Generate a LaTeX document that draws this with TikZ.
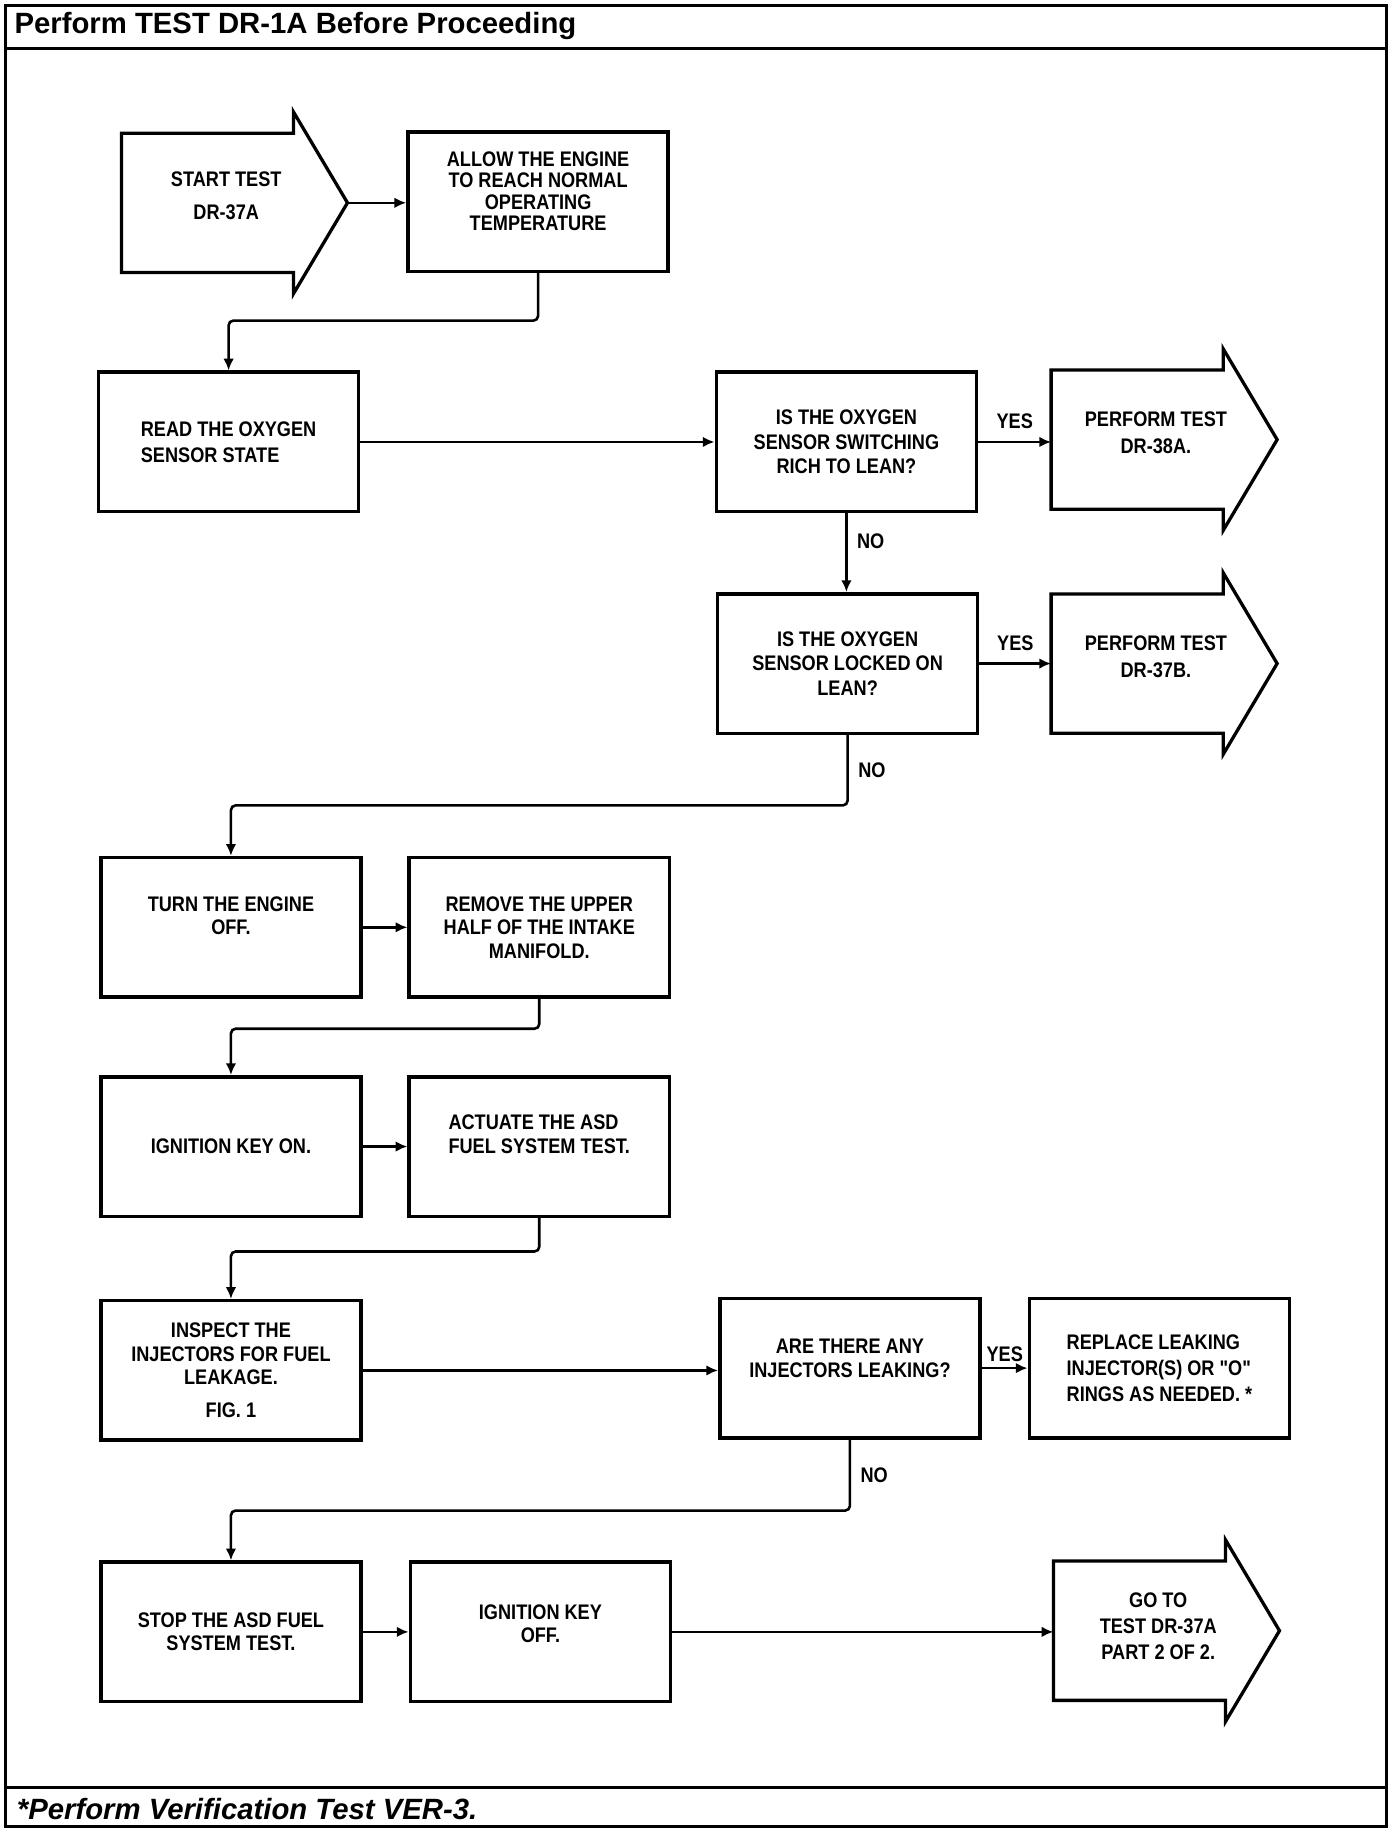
\documentclass[tikz,border=0pt]{standalone}
\usepackage{fontspec}
\setmainfont{Liberation Sans}
\newfontfamily\narrowfont{Liberation Sans}[FakeStretch=0.86]
\usetikzlibrary{arrows.meta}
\tikzstyle{box} = [rectangle, draw=black, line width=1.5pt, minimum width=111pt, minimum height=59.5pt, align=center, inner sep=2pt, font=\narrowfont\bfseries\fontsize{9}{10}\selectfont]
\tikzstyle{flag} = [rectangle, minimum width=73pt, minimum height=59pt, inner sep=0pt]
\tikzstyle{flagtext} = [align=center, xshift=8pt, yshift=3pt, font=\narrowfont\bfseries\fontsize{9}{11.5}\selectfont]
\tikzstyle{answer} = [inner sep=1pt, font=\narrowfont\bfseries\fontsize{9}{10}\selectfont]
\tikzstyle{arrow} = [line width=1.1pt, rounded corners=2pt, -{Latex[length=5pt,width=4.5pt]}]
\tikzstyle{frame} = [line width=1.25pt]
% outline of an arrow shaped box, with a coordinate at its tip
\newcommand{\flagline}[1]{%
  \draw[line width=1.4pt] (#1.north west) -- (#1.north east) -- ([yshift=9pt]#1.north east)
    -- ([xshift=23pt]#1.east) coordinate (#1_tip) -- ([yshift=-9pt]#1.south east)
    -- (#1.south east) -- (#1.south west) -- cycle;}

\begin{document}
\begin{tikzpicture}[x=0.5pt, y=-0.5pt]
    \useasboundingbox (0,0) rectangle (1187,1561);
    \draw[frame] (5,5) rectangle (1183,1558);
    \draw[frame] (5,41) -- (1183,41);
    \draw[frame] (5,1525) -- (1183,1525);
    \node (title) [anchor=west, inner sep=0pt, font=\bfseries\fontsize{12.5}{14}\selectfont] at (12,22) {Perform TEST DR-1A Before Proceeding};
    \node (footnote) [anchor=west, inner sep=0pt, font=\bfseries\itshape\fontsize{12.5}{14}\selectfont] at (14,1543) {*Perform Verification Test VER-3.};

    \node (start_test) [flag, label={[flagtext, font=\narrowfont\bfseries\fontsize{9}{14}\selectfont]center:START TEST\\DR-37A}] at (177,173) {};
    \flagline{start_test}
    \node (allow_engine) [box, font=\narrowfont\bfseries\fontsize{9}{9}\selectfont] at (459,172) {ALLOW THE ENGINE\\TO REACH NORMAL\\OPERATING\\TEMPERATURE\\\mbox{}};
    \node (read_sensor) [box, align=left, font=\narrowfont\bfseries\fontsize{9}{11}\selectfont] at (195,377) {READ THE OXYGEN\\SENSOR STATE};
    \node (is_switching) [box, font=\narrowfont\bfseries\fontsize{9}{10.5}\selectfont] at (722,377) {IS THE OXYGEN\\SENSOR SWITCHING\\RICH TO LEAN?};
    \node (test_38a) [flag, label={[flagtext]center:PERFORM TEST\\DR-38A.}] at (970,375) {};
    \flagline{test_38a}
    \node (is_locked) [box, font=\narrowfont\bfseries\fontsize{9}{10.5}\selectfont] at (723,566) {IS THE OXYGEN\\SENSOR LOCKED ON\\LEAN?};
    \node (test_37b) [flag, label={[flagtext]center:PERFORM TEST\\DR-37B.}] at (970,566) {};
    \flagline{test_37b}
    \node (engine_off) [box, font=\narrowfont\bfseries\fontsize{9}{10}\selectfont] at (197,791) {TURN THE ENGINE\\OFF.\\\mbox{}};
    \node (remove_manifold) [box] at (460,791) {REMOVE THE UPPER\\HALF OF THE INTAKE\\MANIFOLD.};
    \node (key_on) [box] at (197,978) {IGNITION KEY ON.};
    \node (actuate_test) [box, align=left, font=\narrowfont\bfseries\fontsize{9}{10.5}\selectfont] at (460,978) {ACTUATE THE ASD\\FUEL SYSTEM TEST.\\\mbox{}};
    \node (inspect_injectors) [box] at (197,1169) {INSPECT THE\\INJECTORS FOR FUEL\\LEAKAGE.\\[4pt]FIG. 1};
    \node (any_leaking) [box, font=\narrowfont\bfseries\fontsize{9}{8.5}\selectfont] at (725,1167) {ARE THERE ANY\\[1.5pt]INJECTORS LEAKING?\\\mbox{}};
    \node (replace_injectors) [box, align=left, font=\narrowfont\bfseries\fontsize{9}{11}\selectfont] at (989,1167) {REPLACE LEAKING\\INJECTOR(S) OR "O"\\RINGS AS NEEDED. *};
    \node (stop_test) [box] at (197,1392) {STOP THE ASD FUEL\\SYSTEM TEST.};
    \node (key_off) [box, font=\narrowfont\bfseries\fontsize{9}{7}\selectfont] at (461,1392) {IGNITION KEY\\[2.5pt]OFF.\\\mbox{}};
    \node (go_to) [flag, label={[flagtext, yshift=-1pt, font=\narrowfont\bfseries\fontsize{9}{11}\selectfont]center:GO TO\\TEST DR-37A\\PART 2 OF 2.}] at (972,1391) {};
    \flagline{go_to}

    \draw [arrow] (start_test_tip) -- (start_test_tip -| allow_engine.west);
    \draw [arrow] (allow_engine.south) -- ++(0,40.5) -| (read_sensor.north);
    \draw [arrow] (read_sensor.east) -- (read_sensor.east -| is_switching.west);
    \draw [arrow] (is_switching.east) -- node[answer, above=4pt] {YES} (is_switching.east -| test_38a.west);
    \draw [arrow] (is_switching.south) -- node[answer, right=3pt, pos=0.35] {NO} (is_switching.south |- is_locked.north);
    \draw [arrow] (is_locked.east) -- node[answer, above=4pt] {YES} (is_locked.east -| test_37b.west);
    \draw [arrow] (is_locked.south) -- node[answer, right=3pt] {NO} ++(0,60) -| (engine_off.north);
    \draw [arrow] (engine_off.east) -- (engine_off.east -| remove_manifold.west);
    \draw [arrow] (remove_manifold.south) -- ++(0,25.5) -| (key_on.north);
    \draw [arrow] (key_on.east) -- (key_on.east -| actuate_test.west);
    \draw [arrow] (actuate_test.south) -- ++(0,28.5) -| (inspect_injectors.north);
    \draw [arrow] (inspect_injectors.east) -- (inspect_injectors.east -| any_leaking.west);
    \draw [arrow] (any_leaking.east) -- node[answer, above=1pt] {YES} (any_leaking.east -| replace_injectors.west);
    \draw [arrow] (any_leaking.south) -- node[answer, right=3pt] {NO} ++(0,60.5) -| (stop_test.north);
    \draw [arrow] (stop_test.east) -- (stop_test.east -| key_off.west);
    \draw [arrow] (key_off.east) -- (key_off.east -| go_to.west);
\end{tikzpicture}
\end{document}
